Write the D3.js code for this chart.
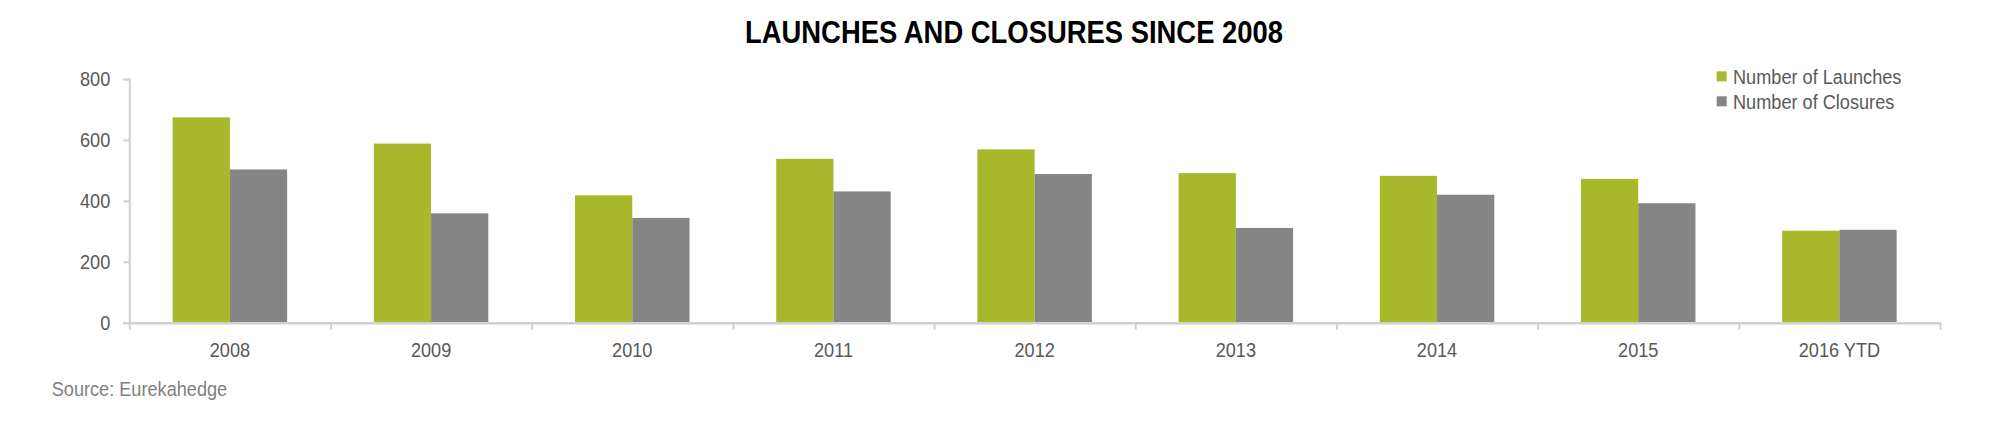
<!DOCTYPE html>
<html>
<head>
<meta charset="utf-8">
<script src="https://cdn.jsdelivr.net/npm/d3@7"></script>
<style>
  html, body { margin: 0; padding: 0; background: #fff; }
  svg { display: block; }
  .lbl { font-family: "Liberation Sans Narrow", "Arial Narrow", "Liberation Sans", Arial, sans-serif; fill: #595959; }
</style>
</head>
<body>
<svg id="chart" width="1996" height="436"></svg>
<script>
const categories = ["2008", "2009", "2010", "2011", "2012", "2013", "2014", "2015", "2016 YTD"];
const seriesNames = ["Number of Launches", "Number of Closures"];
const launches = [674, 588, 418, 538, 569, 491, 482, 472, 302];
const closures = [503, 359, 344, 431, 488, 311, 420, 392, 305];
const yTicks = [0, 200, 400, 600, 800];
const colors = ["#a7b82a", "#858585"];
const titleText = "LAUNCHES AND CLOSURES SINCE 2008";
const sourceText = "Source: Eurekahedge";

const svg = d3.select("#chart");
const left = 129.3, right = 1940, y0 = 322.7, yTop = 79;
const FS = 20.5, SQUEEZE = 0.885;

const x0 = d3.scaleBand().domain(categories).range([left, right]).paddingInner(0.431).paddingOuter(0.2155);
const x1 = d3.scaleBand().domain(seriesNames).range([0, x0.bandwidth()]);
const y = d3.scaleLinear().domain([0, 800]).range([y0, yTop]);

const table = categories.map((c, i) => ({ cat: c, vals: [launches[i], closures[i]] }));

// bars
const g = svg.append("g");
g.selectAll("g.grp").data(table).join("g")
  .attr("class", "grp")
  .attr("transform", d => `translate(${x0(d.cat)},0)`)
  .selectAll("rect").data(d => d.vals.map((v, k) => ({ v, k })))
  .join("rect")
  .attr("x", d => x1(seriesNames[d.k]))
  .attr("width", x1.bandwidth())
  .attr("y", d => y(d.v))
  .attr("height", d => y(0) - y(d.v))
  .attr("fill", d => colors[d.k]);

// y axis
const yAxis = svg.append("g").attr("transform", `translate(${left},0)`)
  .call(d3.axisLeft(y).tickValues(yTicks).tickSize(6).tickPadding(13).tickFormat(d3.format("d")));
yAxis.select(".domain").attr("stroke", "#d0d0d0").attr("stroke-width", 2);
yAxis.selectAll(".tick line").attr("stroke", "#d0d0d0").attr("stroke-width", 2);
yAxis.selectAll(".tick text").attr("class", "lbl").attr("font-size", FS).attr("fill", "#595959");

// x axis boundary ticks
const xb = d3.scaleLinear().domain([0, categories.length]).range([left, right]);
const xAxis = svg.append("g").attr("transform", `translate(0,${y0})`)
  .call(d3.axisBottom(xb).tickValues(d3.range(categories.length + 1)).tickSize(7).tickFormat("").tickSizeOuter(0));
xAxis.select(".domain").attr("stroke", "#d0d0d0").attr("stroke-width", 2.5);
xAxis.selectAll(".tick line").attr("stroke", "#d0d0d0").attr("stroke-width", 2);

// x labels
const xLab = svg.append("g").attr("transform", `translate(0,${y0})`)
  .call(d3.axisBottom(x0).tickSize(0).tickPadding(20));
xLab.select(".domain").remove();
xLab.selectAll(".tick text").attr("class", "lbl").attr("font-size", FS).attr("fill", "#595959")
  .attr("dy", null).attr("y", 34.6);

// title
const title = svg.append("text").attr("x", 1014).attr("y", 43.3).attr("text-anchor", "middle")
  .attr("font-family", "'Liberation Sans Narrow', 'Arial Narrow', 'Liberation Sans', Arial, sans-serif")
  .attr("font-weight", "bold").attr("font-size", 30.5).attr("fill", "#000")
  .text(titleText);
title.attr("textLength", 538).attr("lengthAdjust", "spacingAndGlyphs");

// legend
const leg = svg.append("g").attr("transform", "translate(1716.7,0)");
const legY = d3.scalePoint().domain(seriesNames).range([76.3, 101.3]);
seriesNames.forEach((s, k) => {
  leg.append("rect").attr("x", 0).attr("y", legY(s) - 5).attr("width", 10).attr("height", 10).attr("fill", colors[k]);
  leg.append("text").attr("class", "lbl").attr("x", 16.3).attr("y", legY(s) + 7.2)
    .attr("font-size", FS).text(s);
});

// source
svg.append("text").attr("class", "lbl").attr("x", 51.7).attr("y", 396).attr("font-size", FS)
  .style("fill", "#7f7f7f").text(sourceText);

// condense regular text to match the narrow face of the original
svg.selectAll("text.lbl").each(function () {
  const w = this.getComputedTextLength();
  d3.select(this).attr("textLength", w * SQUEEZE).attr("lengthAdjust", "spacingAndGlyphs");
});
</script>
</body>
</html>
